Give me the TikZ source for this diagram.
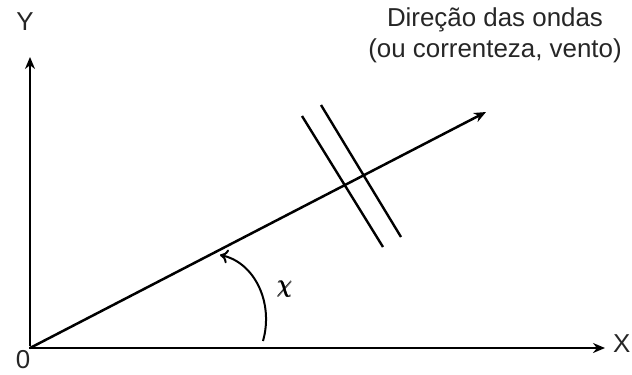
\documentclass[tikz,border=0pt]{standalone}
\usepackage{amsmath}
\usepackage{fontspec}
\setmainfont{Liberation Sans}
\usetikzlibrary{arrows.meta}
\begin{document}
\begin{tikzpicture}[x=1bp,y=-1bp,
  axis/.style={line width=2.9bp,-{Stealth[length=12bp,width=10bp]}},
  dirline/.style={line width=2.5bp,-{Stealth[length=12bp,width=10bp]}},
  wave/.style={line width=2.4bp},
  lbl/.style={font=\fontsize{26}{31}\selectfont,inner sep=0pt,text=black!85}]
\useasboundingbox (0,0) rectangle (632,374);
\coordinate (O) at (30,348);
\coordinate (Yend) at (30,57);
\coordinate (Xend) at (605,348);
\coordinate (Dend) at (486,112);
\draw[axis] (30,346) -- (Yend);
\draw[axis] (O) -- (Xend);
\draw[line width=2.9bp] (31.4,348) -- (O) -- (30,346.6);
\draw[dirline] (O) -- (Dend);
\coordinate (w1a) at (302,116);
\coordinate (w1b) at (383,247);
\coordinate (w2a) at (321,105);
\coordinate (w2b) at (401,237);
\draw[wave] (w1a) -- (w1b);
\draw[wave] (w2a) -- (w2b);
\coordinate (arcS) at (263,341);
\coordinate (arcE) at (220,255);
\draw[line width=2bp,-{To[length=8bp,width=14bp]}] (arcS) .. controls (274,302) and (254,262) .. (arcE);
\node[lbl] (Y) at (25,22) {Y};
\node[lbl] (zero) at (23,360) {0};
\node[lbl,anchor=west] (X) at (613,344) {X};
\node[font=\fontsize{36}{40}\selectfont] (chi) at (285,289) {$\pmb{\chi}$};
\node[lbl,align=center] (title) at (495,35) {Direção das ondas\\(ou correnteza, vento)};
\end{tikzpicture}
\end{document}
